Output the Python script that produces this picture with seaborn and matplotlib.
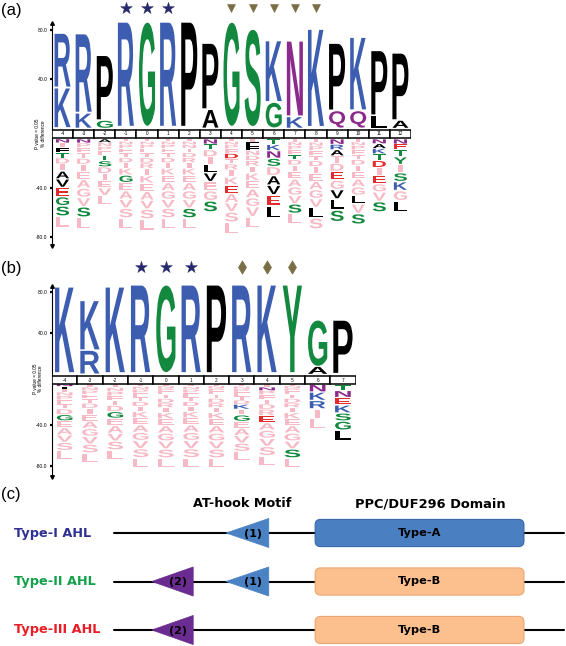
import numpy as np
import matplotlib
matplotlib.use("Agg")
import matplotlib.pyplot as plt
import seaborn as sns
from matplotlib.textpath import TextPath
from matplotlib.patches import PathPatch, Rectangle, Polygon, FancyBboxPatch
from matplotlib.font_manager import FontProperties
from matplotlib.transforms import Affine2D

# ---------------- panel (a) data ----------------
pos_a = list(range(-4, 13))
# enriched residues, bottom -> top, heights in % difference
up_a_letters = ["KR", "KR", "GP", "R", "G", "R", "P", "AP", "G", "S",
                "GK", "KN", "K", "QP", "QK", "LP", "AP"]
up_a_heights = [[33, 45], [12, 66], [6, 54], [88], [88], [88], [88], [15, 55],
                [88], [82], [21, 51], [9, 63], [82], [14, 56], [14, 61], [10, 54], [6, 56]]
# depleted residues, top -> bottom (upper case = significant, lower case = not)
down_a_letters = ["NiFTdiAVEGSl", "NpftdieagvSl", "AnpfTSdievl", "inpftdikGeavsl",
                  "inpftdrikeavsl", "inpftdikeagvsl", "inntdrikeagvSl", "NTdiLVegS",
                  "inpfDtrikEavsl", "iFFndrikeagvl", "TKNSdAVEL", "inpfTdieagvSl",
                  "inpftdieagvLs", "NRAtdEgVLS", "inpftdieagLvS", "NAKTDiEgvS", "NETYiSKgL"]
down_a_depth = [73, 74, 54, 74, 75, 74, 74, 60, 78, 73, 65, 70, 74, 68, 70, 60, 60]
stars_a = [-1, 0, 1]
tri_a = [4, 5, 6, 7, 8]

# ---------------- panel (b) data ----------------
pos_b = list(range(-4, 8))
up_b_letters = ["K", "RK", "K", "R", "G", "R", "P", "R", "K", "Y", "AG", "P"]
up_b_heights = [[86], [23, 49], [86], [88], [88], [88], [88], [88], [88], [88], [7, 46], [53]]
down_b_letters = ["NIinpftdGeavsl", "inpftdieagvsl", "inpftdGeavsl", "inpftdikeagvsl",
                  "inpftdrikeagvsl", "inpftdikeagvsl", "inpftdrikeagvsl", "inpftdKiGeavsl",
                  "iNpftdrEagvsl", "inpftdrikeagvSl", "NKRil", "TNEKSGL"]
down_b_depth = [74, 77, 74, 82, 82, 82, 82, 75, 80, 82, 44, 55]
stars_b = [-1, 0, 1]
diamonds_b = [3, 4, 5]

# relative heights of the depleted letters, top -> bottom
ladder = [1.5, 2, 2.5, 3, 3.5, 4, 4, 4.5, 5.5, 6, 6.5, 7, 7, 8, 9]

# ---------------- panel (c) data ----------------
row_labels = ["Type-I AHL", "Type-II AHL", "Type-III AHL"]
row_colors = ["#2e3192", "#12a04a", "#ec1c24"]
has_motif1 = [True, True, False]
has_motif2 = [False, True, True]
domain_names = ["Type-A", "Type-B", "Type-B"]
motif1_span = (24.9, 34.4)
motif2_span = (8.4, 17.6)
domain_span = (44.7, 91.1)

# ---------------- style ----------------
sns.set_theme(style="white")
plt.rcParams['font.family'] = ['Liberation Sans', 'DejaVu Sans']
plt.rcParams['text.color'] = 'black'
plt.rcParams['ytick.color'] = 'black'

BLUE = "#3d5eb0"
GREEN = "#12893e"
PURPLE = "#8b2a8c"
RED = "#e52a2c"
BLACK = "#000000"
PINK = "#f7b9c6"
NAVY = "#262a6b"
OLIVE = "#7a6e46"
COLORS = {c: BLUE for c in "KRH"}
COLORS.update({c: GREEN for c in "GSTYC"})
COLORS.update({c: PURPLE for c in "NQ"})
COLORS.update({c: RED for c in "DE"})
COLORS.update({c: BLACK for c in "PAVLIMFW"})

LOGO_FONT = FontProperties(family='Liberation Sans', weight='bold')
DIAG = dict(family='DejaVu Sans', fontweight='bold')


def glyph(ax, ch, xc, y0, h, w, color):
    tp = TextPath((0, 0), ch, size=10, prop=LOGO_FONT)
    bb = tp.get_extents()
    if ch == 'I':
        w = w * 0.35
    tr = (Affine2D().translate(-bb.x0, -bb.y0)
          .scale(w / bb.width, h / bb.height)
          .translate(xc - w / 2, y0))
    ax.add_patch(PathPatch(tr.transform_path(tp), fc=color, lw=0))


def logo(ax, pos, up_l, up_h, dn_l, dn_d, band, box):
    for p, lets, hs in zip(pos, up_l, up_h):
        y = 0
        for ch, h in zip(lets, hs):
            glyph(ax, ch, p, y + h * 0.02, h * 0.96, 0.76, COLORS[ch])
            y += h
    for p, lets, depth in zip(pos, dn_l, dn_d):
        hs = np.array(ladder[-len(lets):], dtype=float)
        hs = hs * depth / hs.sum()
        y = -band
        for ch, h in zip(lets, hs):
            c = COLORS[ch] if ch.isupper() else PINK
            glyph(ax, ch.upper(), p, y - h * 0.92, h * 0.84, 0.62, c)
            y -= h
    for p in pos:
        ax.add_patch(Rectangle((p - 0.5, box[0]), 1, box[1] - box[0],
                               fc='white', ec='black', lw=1.1, zorder=3))
        ax.text(p, (box[0] + box[1]) / 2, str(p), ha='center', va='center',
                fontsize=3.4, zorder=4)


def setup(ax, pos, ylim, ticks, labels, ytop, ybot, band):
    ax.set_xlim(pos[0] - 0.5, pos[-1] + 0.5)
    ax.set_ylim(*ylim)
    ax.set_facecolor('none')
    for s in ax.spines.values():
        s.set_visible(False)
    ax.set_xticks([])
    ax.set_yticks(ticks)
    ax.set_yticklabels(labels)
    ax.tick_params(axis='y', left=True, length=1.6, width=1.6, pad=1.5,
                   labelsize=3.6, colors='black')
    x0 = pos[0] - 0.5
    ax.plot([x0, x0], [ybot, ytop], color='black', lw=0.8, clip_on=False)
    ax.plot([x0], [ytop], marker='^', ms=2.6, color='black', clip_on=False)
    ax.plot([x0], [ybot], marker='v', ms=2.6, color='black', clip_on=False)
    ax.text(x0 - 0.55, -band / 2, "P value = 0.05\n% difference", rotation=90,
            ha='center', va='center', fontsize=3.4, linespacing=1.1,
            multialignment='center', clip_on=False)


W, H = 566, 646
fig = plt.figure(figsize=(W / 100, H / 100), dpi=100)

# panel (a): zero line at 128 px, 1.22 px per unit
ax_a = fig.add_axes([52 / W, (H - 250) / H, 359 / W, 238 / H])
setup(ax_a, pos_a, (-100, 95), [80, 40, -49, -89], ["80.0", "40.0", "-40.0", "-80.0"],
      86, -96.5, 9)
logo(ax_a, pos_a, up_a_letters, up_a_heights, down_a_letters, down_a_depth, 9, (-8.2, -1.6))
sns.scatterplot(x=stars_a, y=[98.5] * len(stars_a), marker='*', s=80, color=NAVY,
                edgecolor=NAVY, linewidth=0.3, ax=ax_a, clip_on=False, legend=False)
sns.scatterplot(x=tri_a, y=[98.5] * len(tri_a), marker='v', s=32, color=OLIVE,
                edgecolor=OLIVE, ax=ax_a, clip_on=False, legend=False)

# panel (b): zero line at 374 px, 1.025 px per unit
ax_b = fig.add_axes([52 / W, (H - 479) / H, 303.6 / W, 202.4 / H])
setup(ax_b, pos_b, (-102.5, 95), [80, 40, -50, -90], ["80.0", "40.0", "-40.0", "-80.0"],
      86, -100.5, 10)
logo(ax_b, pos_b, up_b_letters, up_b_heights, down_b_letters, down_b_depth, 10, (-10, -1.8))
sns.scatterplot(x=stars_b, y=[104] * len(stars_b), marker='*', s=80, color=NAVY,
                edgecolor=NAVY, linewidth=0.3, ax=ax_b, clip_on=False, legend=False)
sns.scatterplot(x=diamonds_b, y=[104] * len(diamonds_b), marker='d', s=45, color=OLIVE,
                edgecolor=OLIVE, ax=ax_b, clip_on=False, legend=False)

# panel (c): protein architecture
ax_c = fig.add_axes([0, 0, 1, 166 / H])
x_org = 114   # px where the protein starts
px_x = 4.5    # px per protein unit
px_y = 48.5   # px per row
ax_c.set_xlim(-x_org / px_x, (W - x_org) / px_x)
ax_c.set_ylim(2 + 16 / px_y, -53 / px_y)
ax_c.axis('off')
for i, lab in enumerate(row_labels):
    ax_c.plot([0, 100], [i, i], color='black', lw=1.5, zorder=1)
    ax_c.text((14 - x_org) / px_x, i, lab, color=row_colors[i], fontsize=9.3,
              ha='left', va='center', **DIAG)
    fc, ec = ("#4a7fc2", "#3a67a6") if domain_names[i] == "Type-A" else ("#fcc08e", "#eaa672")
    ax_c.add_patch(FancyBboxPatch((domain_span[0], i - 0.28), domain_span[1] - domain_span[0], 0.56,
                                  boxstyle="round,pad=0,rounding_size=1.2",
                                  mutation_aspect=0.093, fc=fc, ec=ec, lw=0.8, zorder=2))
    ax_c.text(sum(domain_span) / 2, i, domain_names[i], fontsize=8.2, color='black',
              ha='center', va='center', zorder=3, **DIAG)
    for flag, span, col, lab2 in [(has_motif1[i], motif1_span, "#4b82c4", "(1)"),
                                  (has_motif2[i], motif2_span, "#6a2c90", "(2)")]:
        if flag:
            ax_c.add_patch(Polygon([(span[0], i), (span[1], i - 0.3), (span[1], i + 0.3)],
                                   closed=True, fc=col, ec=col, lw=0.5, zorder=2))
            ax_c.text(span[0] + 0.64 * (span[1] - span[0]), i + 0.02, lab2, fontsize=8,
                      color='black', ha='center', va='center', zorder=3, **DIAG)
ax_c.text(28.4, -0.6, "AT-hook Motif", fontsize=9.2, color='black',
          ha='center', va='center', **DIAG)
ax_c.text(70.2, -0.6, "PPC/DUF296 Domain", fontsize=9.4, color='black',
          ha='center', va='center', **DIAG)

for lab, ypx in [("(a)", 3), ("(b)", 261), ("(c)", 487)]:
    fig.text(1 / W, 1 - ypx / H, lab, fontsize=12, color='black', ha='left', va='top')

fig.savefig("out.png", dpi=100)
